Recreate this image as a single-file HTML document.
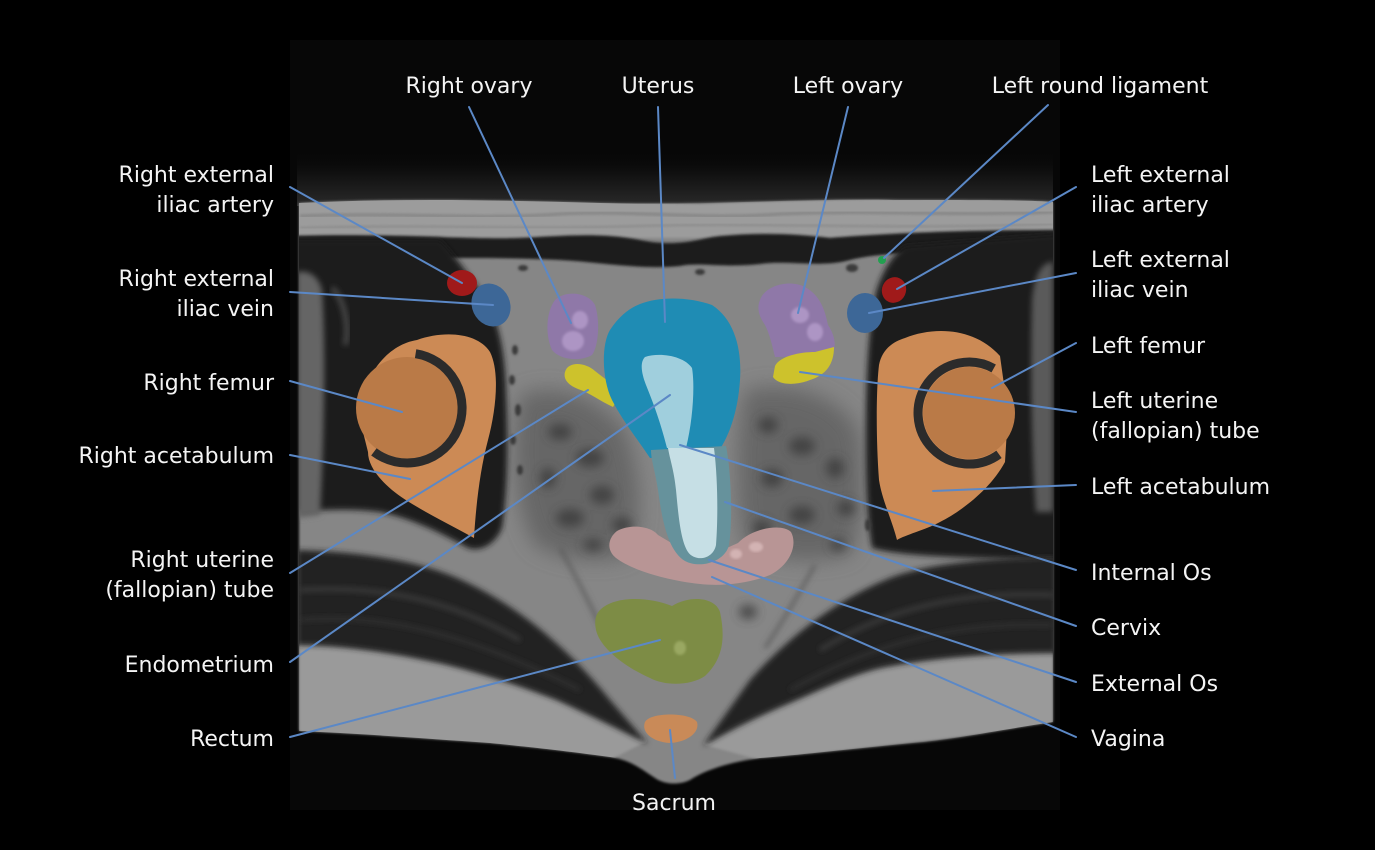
<!DOCTYPE html>
<html>
<head>
<meta charset="utf-8">
<style>
  html,body{margin:0;padding:0;background:#000;}
  svg{display:block;}
  text{font-family:"DejaVu Sans","Liberation Sans",sans-serif;font-size:22px;fill:#f4f4f4;}
</style>
</head>
<body>
<svg width="1375" height="850" viewBox="0 0 1375 850" xmlns="http://www.w3.org/2000/svg">
<defs>
  <filter id="bl" x="-20%" y="-20%" width="140%" height="140%"><feGaussianBlur stdDeviation="3"/></filter>
  <filter id="bl1" x="-10%" y="-10%" width="120%" height="120%"><feGaussianBlur stdDeviation="1.2"/></filter>
  <filter id="bl5" x="-50%" y="-50%" width="200%" height="200%"><feGaussianBlur stdDeviation="5"/></filter>
  <filter id="bl10" x="-50%" y="-50%" width="200%" height="200%"><feGaussianBlur stdDeviation="10"/></filter>
  <linearGradient id="haze" x1="0" y1="0" x2="0" y2="1">
    <stop offset="0" stop-color="#070707" stop-opacity="0"/>
    <stop offset="0.5" stop-color="#141414"/>
    <stop offset="1" stop-color="#2a2a2a"/>
  </linearGradient>
  <clipPath id="bodyclip">
    <path d="M299,203 C400,198 500,200 600,203 C700,206 800,198 900,200 C980,200 1030,200 1053,202 L1053,722 C1000,730 950,740 913,743 C860,748 800,755 760,758 C730,762 705,770 690,780 C680,785 665,785 655,778 C640,768 630,760 610,757 C560,750 520,746 490,743 C420,738 350,733 299,731 Z"/>
  </clipPath>
</defs>

<!-- background -->
<rect x="0" y="0" width="1375" height="850" fill="#000"/>
<rect x="290" y="40" width="770" height="770" fill="#070707"/>
<!-- haze above body -->
<rect x="297" y="150" width="756" height="56" fill="url(#haze)"/>

<!-- body -->
<path d="M299,203 C400,198 500,200 600,203 C700,206 800,198 900,200 C980,200 1030,200 1053,202 L1053,722 C1000,730 950,740 913,743 C860,748 800,755 760,758 C730,762 705,770 690,780 C680,785 665,785 655,778 C640,768 630,760 610,757 C560,750 520,746 490,743 C420,738 350,733 299,731 Z" fill="#868686" filter="url(#bl1)"/>

<g clip-path="url(#bodyclip)">
  <!-- fat band -->
  <path d="M290,198 C420,196 560,199 700,204 C820,199 950,197 1060,199 L1060,238 L290,238 Z" fill="#9c9c9c" filter="url(#bl1)"/>
  <path d="M300,216 C400,212 480,220 560,214 C640,210 700,220 780,214 C860,210 960,216 1053,212" stroke="#858585" stroke-width="3" fill="none" filter="url(#bl1)"/>
  <path d="M300,228 C420,224 520,230 640,226 C760,222 880,230 1053,224" stroke="#8a8a8a" stroke-width="2" fill="none" filter="url(#bl1)"/>
  <!-- abdominal wall dark band -->
  <path d="M290,236 C400,233 470,240 520,238 C560,236 600,232 640,240 C680,248 700,238 720,236 C760,232 800,234 830,238 C880,234 950,230 1060,230 L1060,249 C950,250 880,252 850,260 C820,268 790,260 760,264 C720,268 700,262 680,266 C640,270 600,262 560,260 C520,258 480,258 450,258 L290,258 Z" fill="#1b1b1b" filter="url(#bl1)"/>

  <!-- central mottled darker zones -->
  <path d="M520,395 C560,380 600,400 625,430 C640,470 645,520 630,555 C600,565 560,560 535,545 C515,510 510,450 520,395 Z" fill="#5e5e5e" filter="url(#bl10)" opacity="0.8"/>
  <path d="M745,390 C790,380 840,395 858,430 C866,480 862,530 850,555 C810,565 770,560 745,545 C735,500 735,440 745,390 Z" fill="#5e5e5e" filter="url(#bl10)" opacity="0.8"/>

  <!-- left dark muscle mass -->
  <path d="M290,240 L440,240 C452,252 465,270 480,290 C498,315 505,350 506,390 C508,440 508,490 502,528 C495,545 480,552 468,548 C440,532 410,518 380,512 C350,508 320,510 290,512 Z" fill="#1e1e1e" filter="url(#bl)"/>
  <!-- gray strip left edge -->
  <path d="M297,272 C308,270 318,275 322,290 C326,350 324,440 320,515 L297,518 Z" fill="#656565" filter="url(#bl)"/>
  <path d="M332,288 C345,300 350,330 345,345" stroke="#4a4a4a" stroke-width="5" fill="none" filter="url(#bl)"/>

  <!-- right dark muscle mass -->
  <path d="M1060,234 L905,246 C892,255 882,272 876,292 C868,330 866,380 866,430 C866,480 867,520 872,548 C900,556 960,558 1060,560 Z" fill="#1e1e1e" filter="url(#bl)"/>
  <path d="M1053,262 C1042,262 1034,275 1032,300 C1030,380 1032,460 1036,512 L1053,512 Z" fill="#5a5a5a" filter="url(#bl)"/>

  <!-- lower light zones -->
  <path d="M299,645 C340,645 390,652 440,663 C480,672 520,685 557,700 C590,714 620,728 645,742 L610,760 L299,735 Z" fill="#9a9a9a" filter="url(#bl1)"/>
  <path d="M1053,653 C1000,653 940,656 880,668 C850,675 820,690 780,707 C755,718 730,730 705,745 L760,760 L1053,726 Z" fill="#9a9a9a" filter="url(#bl1)"/>

  <!-- lower dark bands -->
  <path d="M297,550 C360,552 423,560 470,584 C520,608 570,650 610,700 L648,744 C620,730 590,715 557,700 C510,682 470,670 440,663 C390,652 340,645 297,645 Z" fill="#232323" filter="url(#bl)"/>
  <path d="M1056,557 C990,558 930,563 890,578 C840,598 790,635 750,680 L703,746 C730,730 755,718 780,707 C820,690 850,675 880,668 C940,656 1000,653 1056,653 Z" fill="#232323" filter="url(#bl)"/>
  <!-- streaks inside dark bands -->
  <path d="M300,590 C380,585 450,600 520,640" stroke="#3e3e3e" stroke-width="4" fill="none" filter="url(#bl)"/>
  <path d="M300,620 C390,612 480,640 580,690" stroke="#363636" stroke-width="3" fill="none" filter="url(#bl)"/>
  <path d="M1053,595 C980,592 900,600 820,650" stroke="#3e3e3e" stroke-width="4" fill="none" filter="url(#bl)"/>
  <path d="M1053,625 C960,622 880,640 790,690" stroke="#363636" stroke-width="3" fill="none" filter="url(#bl)"/>
  <!-- faint streaks in lower center -->
  <path d="M560,548 C575,575 588,600 600,625" stroke="#5a5a5a" stroke-width="3" fill="none" filter="url(#bl)"/>
  <path d="M815,565 C800,592 785,618 765,648" stroke="#5a5a5a" stroke-width="3" fill="none" filter="url(#bl)"/>

  <!-- small vessel dots -->
  <g fill="#3a3a3a" filter="url(#bl1)">
    <ellipse cx="515" cy="350" rx="3" ry="5"/>
    <ellipse cx="512" cy="380" rx="3" ry="5"/>
    <ellipse cx="518" cy="410" rx="3" ry="6"/>
    <ellipse cx="513" cy="440" rx="3" ry="5"/>
    <ellipse cx="520" cy="470" rx="3" ry="5"/>
    <ellipse cx="523" cy="268" rx="5" ry="3"/>
    <ellipse cx="700" cy="272" rx="5" ry="3"/>
    <ellipse cx="852" cy="268" rx="6" ry="4"/>
    <ellipse cx="868" cy="525" rx="3" ry="6"/>
  </g>
  <!-- irregular mottling -->
  <g fill="#3e3e3e" filter="url(#bl5)" opacity="0.85">
    <ellipse cx="560" cy="432" rx="12" ry="8"/>
    <ellipse cx="590" cy="458" rx="14" ry="9"/>
    <ellipse cx="548" cy="478" rx="8" ry="10"/>
    <ellipse cx="602" cy="495" rx="12" ry="9"/>
    <ellipse cx="570" cy="518" rx="14" ry="9"/>
    <ellipse cx="622" cy="525" rx="10" ry="8"/>
    <ellipse cx="593" cy="545" rx="10" ry="6"/>
    <ellipse cx="768" cy="425" rx="10" ry="8"/>
    <ellipse cx="802" cy="446" rx="13" ry="9"/>
    <ellipse cx="835" cy="468" rx="9" ry="10"/>
    <ellipse cx="772" cy="478" rx="11" ry="9"/>
    <ellipse cx="846" cy="508" rx="9" ry="8"/>
    <ellipse cx="802" cy="515" rx="13" ry="9"/>
    <ellipse cx="762" cy="528" rx="9" ry="8"/>
    <ellipse cx="838" cy="545" rx="8" ry="6"/>
    <ellipse cx="748" cy="612" rx="9" ry="7"/>
  </g>
</g>

<!-- Right (image-left) acetabulum + femur -->
<path d="M417,340 C445,330 478,333 490,352 C500,372 496,410 488,440 C480,470 476,505 474,538 C445,522 410,505 392,490 C378,478 368,465 368,452 L360,420 C360,380 385,345 417,340 Z" fill="#cc8a55"/>
<circle cx="407" cy="408" r="51" fill="#ba7a47"/>
<path d="M415.6,353.7 A55,55 0 1 1 373.9,451.9" stroke="#2b2b2b" stroke-width="9" fill="none"/>

<!-- Left (image-right) acetabulum + femur -->
<path d="M905,338 C935,326 975,328 1000,356 L1008,413 L1005,462 C990,490 960,512 940,522 C925,530 905,535 897,540 C892,520 882,500 879,480 C876,440 876,390 879,365 C882,350 892,342 905,338 Z" fill="#cc8a55"/>
<circle cx="969" cy="413" r="46" fill="#ba7a47"/>
<path d="M993.7,368.4 A51,51 0 1 0 999,454.3" stroke="#2b2b2b" stroke-width="9" fill="none"/>

<!-- vessels -->
<ellipse cx="462" cy="283" rx="15" ry="13" fill="#a01a1a"/>
<ellipse cx="491" cy="305" rx="19" ry="22" transform="rotate(-25 491 305)" fill="#3d6797"/>
<ellipse cx="894" cy="290" rx="12" ry="13" transform="rotate(25 894 290)" fill="#a01a1a"/>
<ellipse cx="865" cy="313" rx="18" ry="20" fill="#3d6797"/>
<circle cx="882" cy="260" r="4" fill="#22a050"/>

<!-- ovaries -->
<path d="M555,300 C565,290 588,292 595,305 C600,320 599,345 592,355 C580,362 560,360 552,350 C545,335 546,312 555,300 Z" fill="#8f78a8"/>
<ellipse cx="580" cy="320" rx="8" ry="9" fill="#ad95c4" filter="url(#bl1)"/>
<ellipse cx="573" cy="341" rx="11" ry="10" fill="#ad95c4" filter="url(#bl1)"/>
<path d="M760,300 C765,285 790,279 805,287 C820,295 825,310 828,325 C835,335 838,350 830,356 L775,357 C772,345 770,335 765,325 C758,315 757,307 760,300 Z" fill="#8f78a8"/>
<ellipse cx="800" cy="315" rx="9" ry="8" fill="#ad95c4" filter="url(#bl1)"/>
<ellipse cx="815" cy="332" rx="8" ry="9" fill="#ad95c4" filter="url(#bl1)"/>

<!-- uterine tubes -->
<path d="M565,372 C568,361 585,362 595,371 C605,379 615,385 620,395 L613,407 C600,401 590,393 578,389 C568,385 563,379 565,372 Z" fill="#cdc22c"/>
<path d="M775,366 C780,356 800,352 815,352 L834,347 C834,364 826,375 810,380 C795,386 778,385 773,377 Z" fill="#cdc22c"/>

<!-- vagina -->
<path d="M617,531 C632,523 652,527 658,535 L700,560 L738,543 C752,528 782,523 791,532 C798,545 790,565 770,575 C745,585 718,586 700,584 C665,580 632,570 616,558 C606,550 608,538 617,531 Z" fill="#b89595"/>
<ellipse cx="756" cy="547" rx="7" ry="5" fill="#d3b3b3" filter="url(#bl1)"/>
<ellipse cx="736" cy="554" rx="6" ry="5" fill="#d3b3b3" filter="url(#bl1)"/>

<!-- uterus -->
<path d="M640,304 C660,296 690,297 712,305 C735,320 742,350 740,380 C738,410 730,435 718,452 L650,458 C638,440 622,420 612,400 C602,380 601,345 610,330 C620,315 630,308 640,304 Z" fill="#1f8cb4"/>
<!-- endometrium -->
<path d="M645,357 C660,352 684,356 692,368 C695,385 693,420 686,448 L667,448 C660,420 652,400 646,385 C641,372 640,362 645,357 Z" fill="#a0cfdd"/>

<!-- cervix -->
<path d="M651,450 L726,446 C731,470 733,520 729,545 C725,562 700,569 685,561 C668,551 662,520 658,490 C655,470 651,460 651,450 Z" fill="#66929c"/>
<path d="M668,448 L714,448 C718,480 718,520 716,545 C713,560 695,562 688,552 C680,540 678,510 676,490 C674,470 670,460 668,448 Z" fill="#c6dfe5"/>

<!-- rectum -->
<path d="M600,610 C615,595 650,597 672,606 C690,595 715,597 720,612 C726,640 722,660 705,676 C690,686 665,686 650,678 C625,667 600,648 596,630 C594,620 596,614 600,610 Z" fill="#7d8c45"/>
<ellipse cx="680" cy="648" rx="6" ry="7" fill="#9aa862" filter="url(#bl1)"/>

<!-- sacrum -->
<path d="M645,722 C650,712 690,712 697,722 C700,732 688,742 670,743 C652,742 641,732 645,722 Z" fill="#c98a58"/>

<!-- leader lines -->
<g stroke="#5b88c6" stroke-width="2" fill="none" stroke-linecap="round">
  <line x1="290" y1="187" x2="462" y2="283"/>
  <line x1="290" y1="292" x2="493" y2="305"/>
  <line x1="290" y1="381" x2="402" y2="412"/>
  <line x1="290" y1="455" x2="410" y2="479"/>
  <line x1="290" y1="573" x2="588" y2="390"/>
  <line x1="290" y1="662" x2="670" y2="395"/>
  <line x1="290" y1="737" x2="660" y2="640"/>
  <line x1="469" y1="107" x2="571" y2="323"/>
  <line x1="658" y1="107" x2="665" y2="322"/>
  <line x1="848" y1="107" x2="798" y2="313"/>
  <line x1="1048" y1="105" x2="884" y2="258"/>
  <line x1="1076" y1="187" x2="897" y2="289"/>
  <line x1="1076" y1="273" x2="869" y2="313"/>
  <line x1="1076" y1="343" x2="992" y2="388"/>
  <line x1="1076" y1="412" x2="800" y2="372"/>
  <line x1="1076" y1="485" x2="933" y2="491"/>
  <line x1="1076" y1="570" x2="680" y2="445"/>
  <line x1="1076" y1="626" x2="725" y2="502"/>
  <line x1="1076" y1="682" x2="709" y2="560"/>
  <line x1="1076" y1="737" x2="712" y2="577"/>
  <line x1="675" y1="778" x2="670" y2="730"/>
</g>

<!-- labels: top -->
<text x="469" y="93" text-anchor="middle">Right ovary</text>
<text x="658" y="93" text-anchor="middle">Uterus</text>
<text x="848" y="93" text-anchor="middle">Left ovary</text>
<text x="1100" y="93" text-anchor="middle">Left round ligament</text>

<!-- labels: left -->
<text x="274" y="182" text-anchor="end">Right external</text>
<text x="274" y="212" text-anchor="end">iliac artery</text>
<text x="274" y="286" text-anchor="end">Right external</text>
<text x="274" y="316" text-anchor="end">iliac vein</text>
<text x="274" y="390" text-anchor="end">Right femur</text>
<text x="274" y="463" text-anchor="end">Right acetabulum</text>
<text x="274" y="567" text-anchor="end">Right uterine</text>
<text x="274" y="597" text-anchor="end">(fallopian) tube</text>
<text x="274" y="672" text-anchor="end">Endometrium</text>
<text x="274" y="746" text-anchor="end">Rectum</text>

<!-- labels: right -->
<text x="1091" y="182">Left external</text>
<text x="1091" y="212">iliac artery</text>
<text x="1091" y="267">Left external</text>
<text x="1091" y="297">iliac vein</text>
<text x="1091" y="353">Left femur</text>
<text x="1091" y="408">Left uterine</text>
<text x="1091" y="438">(fallopian) tube</text>
<text x="1091" y="494">Left acetabulum</text>
<text x="1091" y="580">Internal Os</text>
<text x="1091" y="635">Cervix</text>
<text x="1091" y="691">External Os</text>
<text x="1091" y="746">Vagina</text>

<!-- bottom -->
<text x="674" y="810" text-anchor="middle">Sacrum</text>
</svg>
</body>
</html>
